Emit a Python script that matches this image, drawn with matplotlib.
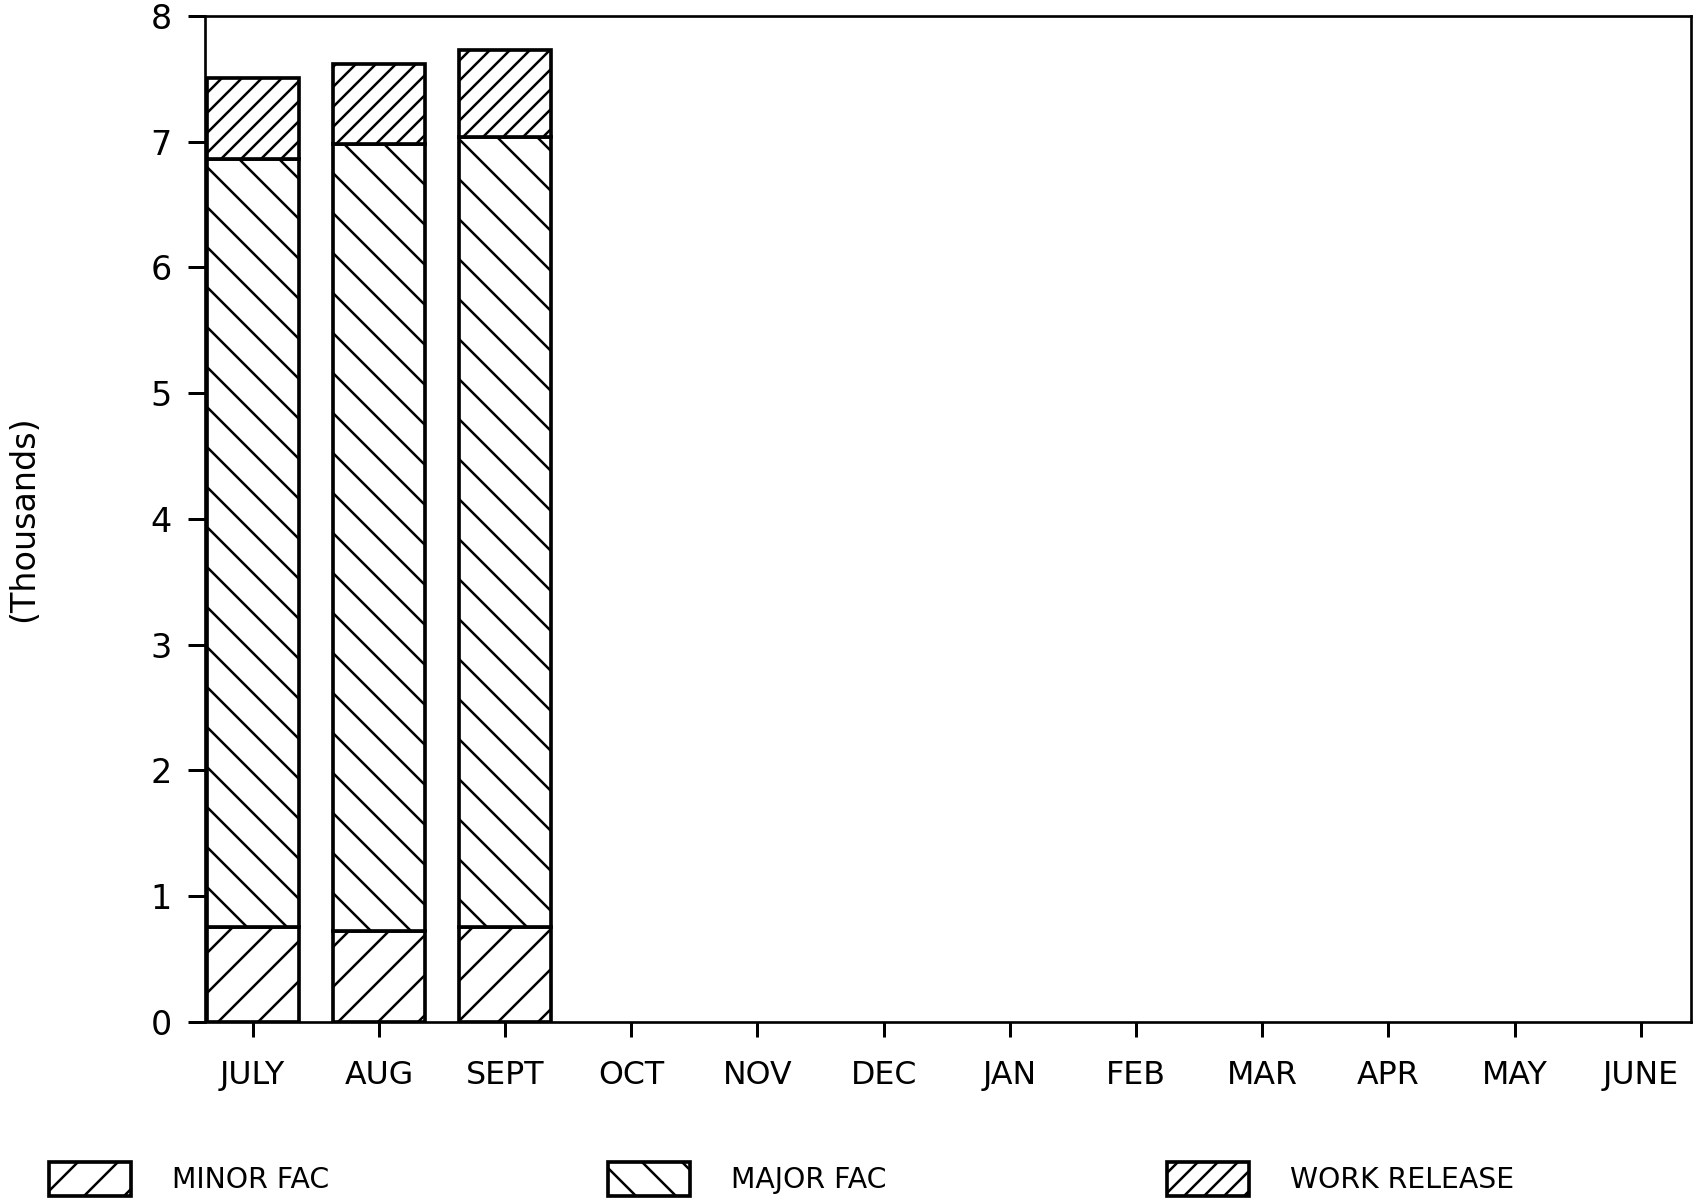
import numpy as np
import matplotlib
matplotlib.use("Agg")
import matplotlib.pyplot as plt

months = ["JULY", "AUG", "SEPT", "OCT", "NOV", "DEC",
          "JAN", "FEB", "MAR", "APR", "MAY", "JUNE"]
# thousands, only the first quarter is reported
minor_fac = [0.75, 0.72, 0.75]
major_fac = [6.11, 6.26, 6.29]
work_release = [0.65, 0.64, 0.69]
y_ticks = [0, 1, 2, 3, 4, 5, 6, 7, 8]

plt.rcParams["font.family"] = ["DejaVu Sans"]
plt.rcParams["hatch.linewidth"] = 0.75
plt.rcParams["hatch.color"] = "black"

dpi = 240
fig = plt.figure(figsize=(1700 / dpi, 1201 / dpi), dpi=dpi)
ax = fig.add_axes([0.1206, 0.1493, 0.8742, 0.8374])

x = np.arange(len(minor_fac))
minor = np.array(minor_fac)
major = np.array(major_fac)
work = np.array(work_release)

w = 0.73
kw = dict(width=w, color="white", edgecolor="black", linewidth=1.1)
b1 = ax.bar(x, minor, hatch="//", **kw)
b2 = ax.bar(x, major, bottom=minor, hatch="\\\\", **kw)
b3 = ax.bar(x, work, bottom=minor + major, hatch="////", **kw)

ax.set_xlim(-0.378, 11.40)
ax.set_ylim(0, 8)
ax.set_xticks(np.arange(len(months)))
ax.set_xticklabels(months, fontsize=9.5)
ax.set_yticks(y_ticks)
ax.set_yticklabels([str(v) for v in y_ticks], fontsize=10)
ax.tick_params(axis="x", direction="out", length=4.5, width=0.9, pad=7)
ax.tick_params(axis="y", direction="out", length=5, width=0.9, pad=5)
for s in ax.spines.values():
    s.set_linewidth(0.8)

ax.set_ylabel("(Thousands)", fontsize=10, va="center")
ax.yaxis.set_label_coords(-0.1218, 0.5)

# three separate legend entries along the bottom
entries = [(b1, "MINOR FAC", 0.0288), (b2, "MAJOR FAC", 0.3576), (b3, "WORK RELEASE", 0.6865)]
for handle, label, xpos in entries:
    fig.legend([handle], [label], loc="center left", bbox_to_anchor=(xpos, 0.0183),
               frameon=False, fontsize=8.5, handlelength=2.9, handleheight=1.5,
               handletextpad=1.45, borderpad=0, borderaxespad=0)

fig.savefig("out.png", dpi=dpi)
